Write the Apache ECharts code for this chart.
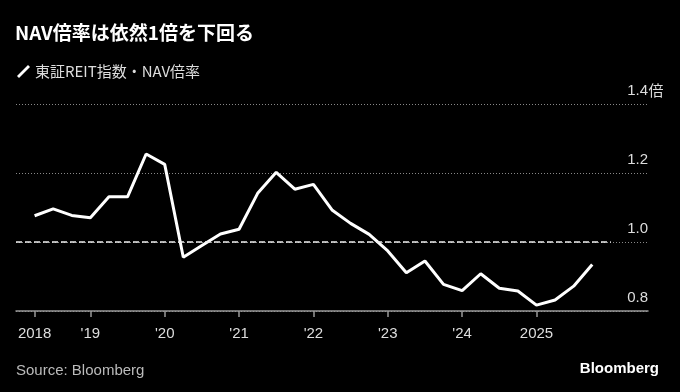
<!DOCTYPE html>
<html>
<head>
<meta charset="utf-8">
<script src="https://cdn.jsdelivr.net/npm/echarts@6.0.0/dist/echarts.min.js"></script>
<style>
html,body{margin:0;padding:0;background:#000;}
#chart{width:680px;height:392px;}
</style>
</head>
<body>
<div id="chart"></div>
<script>
// Quarterly observations (index 0 = first quarter shown, 2018)
const seriesName = '東証REIT指数・NAV倍率';
const navRatio = [1.076, 1.096, 1.077, 1.070, 1.131, 1.131, 1.255, 1.225,
  0.956, 0.990, 1.023, 1.037, 1.141, 1.202, 1.153, 1.167,
  1.093, 1.054, 1.022, 0.974, 0.911, 0.945, 0.877, 0.859,
  0.908, 0.866, 0.858, 0.817, 0.832, 0.872, 0.935];
const tickIndices = [0, 3, 7, 11, 15, 19, 23, 27];
const tickLabels = ['2018', "'19", "'20", "'21", "'22", "'23", "'24", '2025'];
const yTicks = [0.8, 1.0, 1.2, 1.4];
const yUnit = '倍';
const parityLevel = 1.0;
const parityRange = [-1, 31];
const xRange = [-1, 33];

const chart = echarts.init(document.getElementById('chart'), null, {renderer: 'canvas'});
const latin = "'Liberation Sans', Arial, sans-serif";
const cjk = "'Noto Sans CJK JP', sans-serif";
const labelColor = '#ddd';

chart.setOption({
  backgroundColor: '#000',
  animation: false,
  title: {
    text: 'NAV倍率は依然1倍を下回る',
    left: 10, top: 18,
    textStyle: {color: '#fff', fontSize: 19, fontWeight: 'bold', fontFamily: cjk}
  },
  legend: {
    left: 12, top: 59,
    icon: 'path://M0,11 L2,13 L13,2 L11,0 Z',
    itemWidth: 13, itemHeight: 13,
    textStyle: {color: labelColor, fontSize: 15, fontFamily: cjk},
    data: [seriesName]
  },
  grid: {left: 16, right: 32, top: 104, bottom: 81, outerBoundsMode: 'none'},
  xAxis: {
    type: 'value', min: xRange[0], max: xRange[1],
    axisLine: {show: true, lineStyle: {color: '#999', width: 1.5}},
    axisTick: {show: true, length: 6, customValues: tickIndices, lineStyle: {color: '#999', width: 1.5}},
    axisLabel: {
      customValues: tickIndices, margin: 15, color: labelColor, fontSize: 15, fontFamily: latin,
      formatter: v => tickLabels[tickIndices.indexOf(v)] || ''
    },
    splitLine: {show: false}
  },
  yAxis: {
    type: 'value', position: 'right', min: yTicks[0], max: yTicks[yTicks.length - 1], interval: 0.2,
    axisLine: {show: false}, axisTick: {show: false},
    splitLine: {show: true, lineStyle: {color: '#888', type: [1, 2], width: 1}},
    axisLabel: {
      inside: true, margin: 0, verticalAlign: 'bottom', padding: [0, 0, 6, 0],
      color: labelColor, fontSize: 15, fontFamily: latin,
      formatter: v => v.toFixed(1)
    }
  },
  series: [{
    name: seriesName,
    type: 'line',
    data: navRatio.map((v, i) => [i, v]),
    symbol: 'none',
    itemStyle: {color: '#fff'},
    lineStyle: {color: '#fff', width: 3},
    z: 3,
    markLine: {
      silent: true, symbol: 'none', label: {show: false},
      lineStyle: {color: '#eee', type: [6, 3], width: 1.5},
      data: [[{coord: [parityRange[0], parityLevel]}, {coord: [parityRange[1], parityLevel]}]]
    }
  }],
  graphic: [
    {type: 'text', id: 'source', left: 16, top: 363, style: {text: 'Source: Bloomberg', fill: '#bbb', fontSize: 15, fontFamily: latin}},
    {type: 'text', id: 'logo', right: 21, top: 361, style: {text: 'Bloomberg', fill: '#fff', fontSize: 15, fontWeight: 'bold', fontFamily: latin}}
  ]
});

// unit suffix after the top tick label, placed from the axis scale
const topY = chart.convertToPixel({yAxisIndex: 0}, yTicks[yTicks.length - 1]);
const rightX = chart.convertToPixel({xAxisIndex: 0}, xRange[1]);
chart.setOption({
  graphic: [
    {type: 'text', id: 'unit', x: rightX + 0.5, y: topY - 6,
     style: {text: yUnit, fill: labelColor, fontSize: 15, fontFamily: cjk, align: 'left', verticalAlign: 'bottom'}}
  ]
});
</script>
</body>
</html>
